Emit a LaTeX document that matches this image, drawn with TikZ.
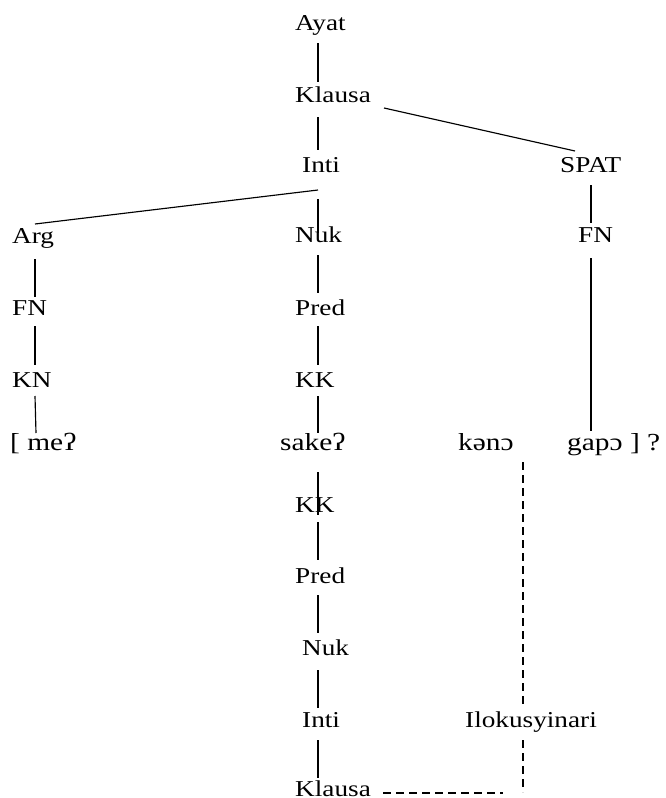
\documentclass[tikz,border=0pt]{standalone}
\usepackage{fontspec}
\setmainfont{Liberation Serif}[FakeStretch=1.2]
\usetikzlibrary{calc}
\begin{document}
\begin{tikzpicture}[x=1pt,y=-1pt,
  lab/.style={anchor=base west,inner sep=0pt,font=\fontsize{22.7}{27}\selectfont},
  word/.style={anchor=base west,inner sep=0pt,font=\fontsize{24.5}{29}\selectfont},
  branch/.style={line width=1.15pt},
  link/.style={line width=1.3pt,dash pattern=on 8pt off 5pt}]
\useasboundingbox (0,0) rectangle (665,798);

% vertical guide lines of the three columns and the dashed link
\coordinate (lsp) at (35,0);
\coordinate (spine) at (318,0);
\coordinate (dsp) at (523,0);
\coordinate (rsp) at (591,0);

% upper tree
\node[lab] (ayat)   at (295,30)  {Ayat};
\node[lab] (klausa) at (295,102) {Klausa};
\node[lab] (inti)   at (302,172) {Inti};
\node[lab] (spat)   at (560,172) {SPAT};
\node[lab] (arg)    at (12,243)  {Arg};
\node[lab] (nuk)    at (295,242) {Nuk};
\node[lab] (fnr)    at (578,242) {FN};
\node[lab] (fnl)    at (12,315)  {FN};
\node[lab] (pred)   at (295,315) {Pred};
\node[lab] (kn)     at (12,387)  {KN};
\node[lab] (kk)     at (295,387) {KK};

% the sentence
\node[word] (me)   at (10,450)  {[ meʔ};
\node[word] (sake) at (280,450) {sakeʔ};
\node[word] (keno) at (458,450) {kənɔ};
\node[word] (gapo) at (567,450) {gapɔ ] ?};

% lower tree
\node[lab] (kk2)     at (295,512) {KK};
\node[lab] (pred2)   at (295,583) {Pred};
\node[lab] (nuk2)    at (302,655) {Nuk};
\node[lab] (inti2)   at (302,727) {Inti};
\node[lab] (ilok)    at (465,727) {Ilokusyinari};
\node[lab] (klausa2) at (295,796) {Klausa};

% branches of the upper tree
\draw[branch] ($(ayat.base -| spine)+(0,13)$) -- ($(klausa.base -| spine)+(0,-20)$);
\draw[branch] ($(klausa.base -| spine)+(0,15)$) -- ($(inti.base -| spine)+(0,-22)$);
\draw[branch] ($(klausa.base east)+(13,6)$) -- ($(spat.base west)+(15,-21)$);
\draw[branch] ($(inti.base -| spine)+(0,18)$) -- ($(arg.base -| lsp)+(0,-19)$);
\draw[branch] ($(inti.base -| spine)+(0,27)$) -- ($(nuk.base -| spine)+(0,-9)$);
\draw[branch] ($(spat.base -| rsp)+(0,13)$) -- ($(fnr.base -| rsp)+(0,-19)$);
\draw[branch] ($(arg.base -| lsp)+(0,16)$) -- ($(fnl.base -| lsp)+(0,-18)$);
\draw[branch] ($(fnl.base -| lsp)+(0,11)$) -- ($(kn.base -| lsp)+(0,-22)$);
\draw[branch] ($(kn.base -| lsp)+(0,9)$) -- ($(me.base -| lsp)+(1,-17)$);
\draw[branch] ($(nuk.base -| spine)+(0,13)$) -- ($(pred.base -| spine)+(0,-22)$);
\draw[branch] ($(pred.base -| spine)+(0,11)$) -- ($(kk.base -| spine)+(0,-22)$);
\draw[branch] ($(kk.base -| spine)+(0,9)$) -- ($(sake.base -| spine)+(0,-17)$);
\draw[branch] ($(fnr.base -| rsp)+(0,16)$) -- ($(gapo.base -| rsp)+(0,-19)$);

% branches of the lower tree
\draw[branch] ($(sake.base -| spine)+(0,22)$) -- ($(kk2.base -| spine)+(0,3)$);
\draw[branch] ($(kk2.base -| spine)+(0,10)$) -- ($(pred2.base -| spine)+(0,-23)$);
\draw[branch] ($(pred2.base -| spine)+(0,12)$) -- ($(nuk2.base -| spine)+(0,-22)$);
\draw[branch] ($(nuk2.base -| spine)+(0,15)$) -- ($(inti2.base -| spine)+(0,-19)$);
\draw[branch] ($(inti2.base -| spine)+(0,13)$) -- ($(klausa2.base -| spine)+(0,-18)$);

% dashed illocution link
\draw[link] ($(keno.base -| dsp)+(0,12)$) -- ($(ilok.base -| dsp)+(0,-20)$);
\draw[link] ($(ilok.base -| dsp)+(0,13)$) -- ($(klausa2.base -| dsp)+(0,-4)$);
\draw[link] ($(klausa2.base east)+(12,-3)$) -- ($(klausa2.base -| dsp)+(-20,-3)$);
\end{tikzpicture}
\end{document}
